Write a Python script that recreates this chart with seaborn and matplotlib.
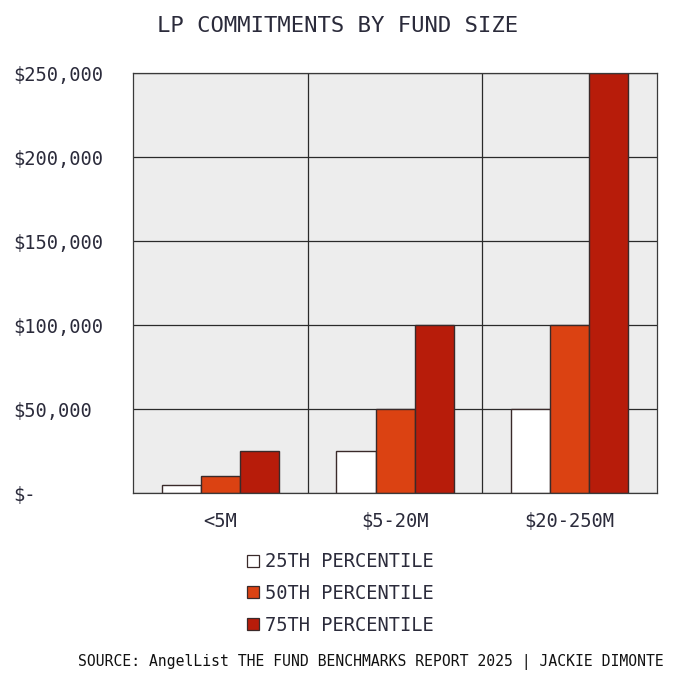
import pandas as pd
import numpy as np
import matplotlib
matplotlib.use('Agg')
import matplotlib.pyplot as plt
import seaborn as sns
from matplotlib.ticker import FixedLocator

# data
fund_sizes = ['<5M', '$5-20M', '$20-250M']
percentiles = ['25TH PERCENTILE', '50TH PERCENTILE', '75TH PERCENTILE']
p25 = [5000, 25000, 50000]
p50 = [10000, 50000, 100000]
p75 = [25000, 100000, 250000]
y_ticks = [0, 50000, 100000, 150000, 200000, 250000]
y_tick_labels = ['$-', '$50,000', '$100,000', '$150,000', '$200,000', '$250,000']

colors = ['#ffffff', '#db4212', '#b71c0a']
text_color = '#2b2b3b'

df = pd.DataFrame({
    'size': fund_sizes * 3,
    'pct': [p for p in percentiles for _ in fund_sizes],
    'value': p25 + p50 + p75,
})

sns.set_theme(style='white')
plt.rcParams['font.family'] = ['DejaVu Sans Mono']
plt.rcParams['text.color'] = text_color

fig = plt.figure(figsize=(6.76, 6.8), dpi=100)
ax = fig.add_axes([0.1967, 0.275, 0.7753, 0.6176])
ax.set_facecolor('#ededed')

sns.barplot(data=df, x='size', y='value', hue='pct', hue_order=percentiles,
            palette=colors, saturation=1, width=0.67, edgecolor='#3a2a2a',
            linewidth=1, ax=ax, legend=False)

ax.set_axisbelow(True)
ax.set_ylim(0, 250000)
ax.set_xlim(-0.5, 2.5)
ax.set_yticks(y_ticks)
ax.set_yticklabels(y_tick_labels, ha='left')
ax.xaxis.set_minor_locator(FixedLocator([0.5, 1.5]))
ax.grid(axis='y', color='#2a2a2a', linewidth=0.9)
ax.grid(axis='x', which='minor', color='#2a2a2a', linewidth=0.9)
ax.tick_params(axis='y', length=0, pad=86, labelsize=13.5, labelcolor=text_color)
ax.tick_params(axis='x', which='both', length=0, pad=14, labelsize=13.5, labelcolor=text_color)
ax.set_xlabel('')
ax.set_ylabel('')
for s in ax.spines.values():
    s.set_color('#3a3a3a')
    s.set_linewidth(0.9)

fig.text(0.5, 0.962, 'LP COMMITMENTS BY FUND SIZE', ha='center', va='center',
         fontsize=16, color=text_color)

handles = [plt.Rectangle((0, 0), 1, 1, facecolor=c, edgecolor='#3a2a2a', linewidth=0.9)
           for c in colors]
fig.legend(handles, percentiles, loc='upper left', bbox_to_anchor=(0.366, 0.188),
           frameon=False, fontsize=13.5, handlelength=0.6, handleheight=0.6,
           handletextpad=0.35, labelspacing=0.68, borderaxespad=0, borderpad=0)

fig.text(0.548, 0.026, 'SOURCE: AngelList THE FUND BENCHMARKS REPORT 2025 | JACKIE DIMONTE',
         ha='center', va='center', fontsize=10.6, color='#111111')

fig.savefig('out.png', dpi=100, facecolor='white')
